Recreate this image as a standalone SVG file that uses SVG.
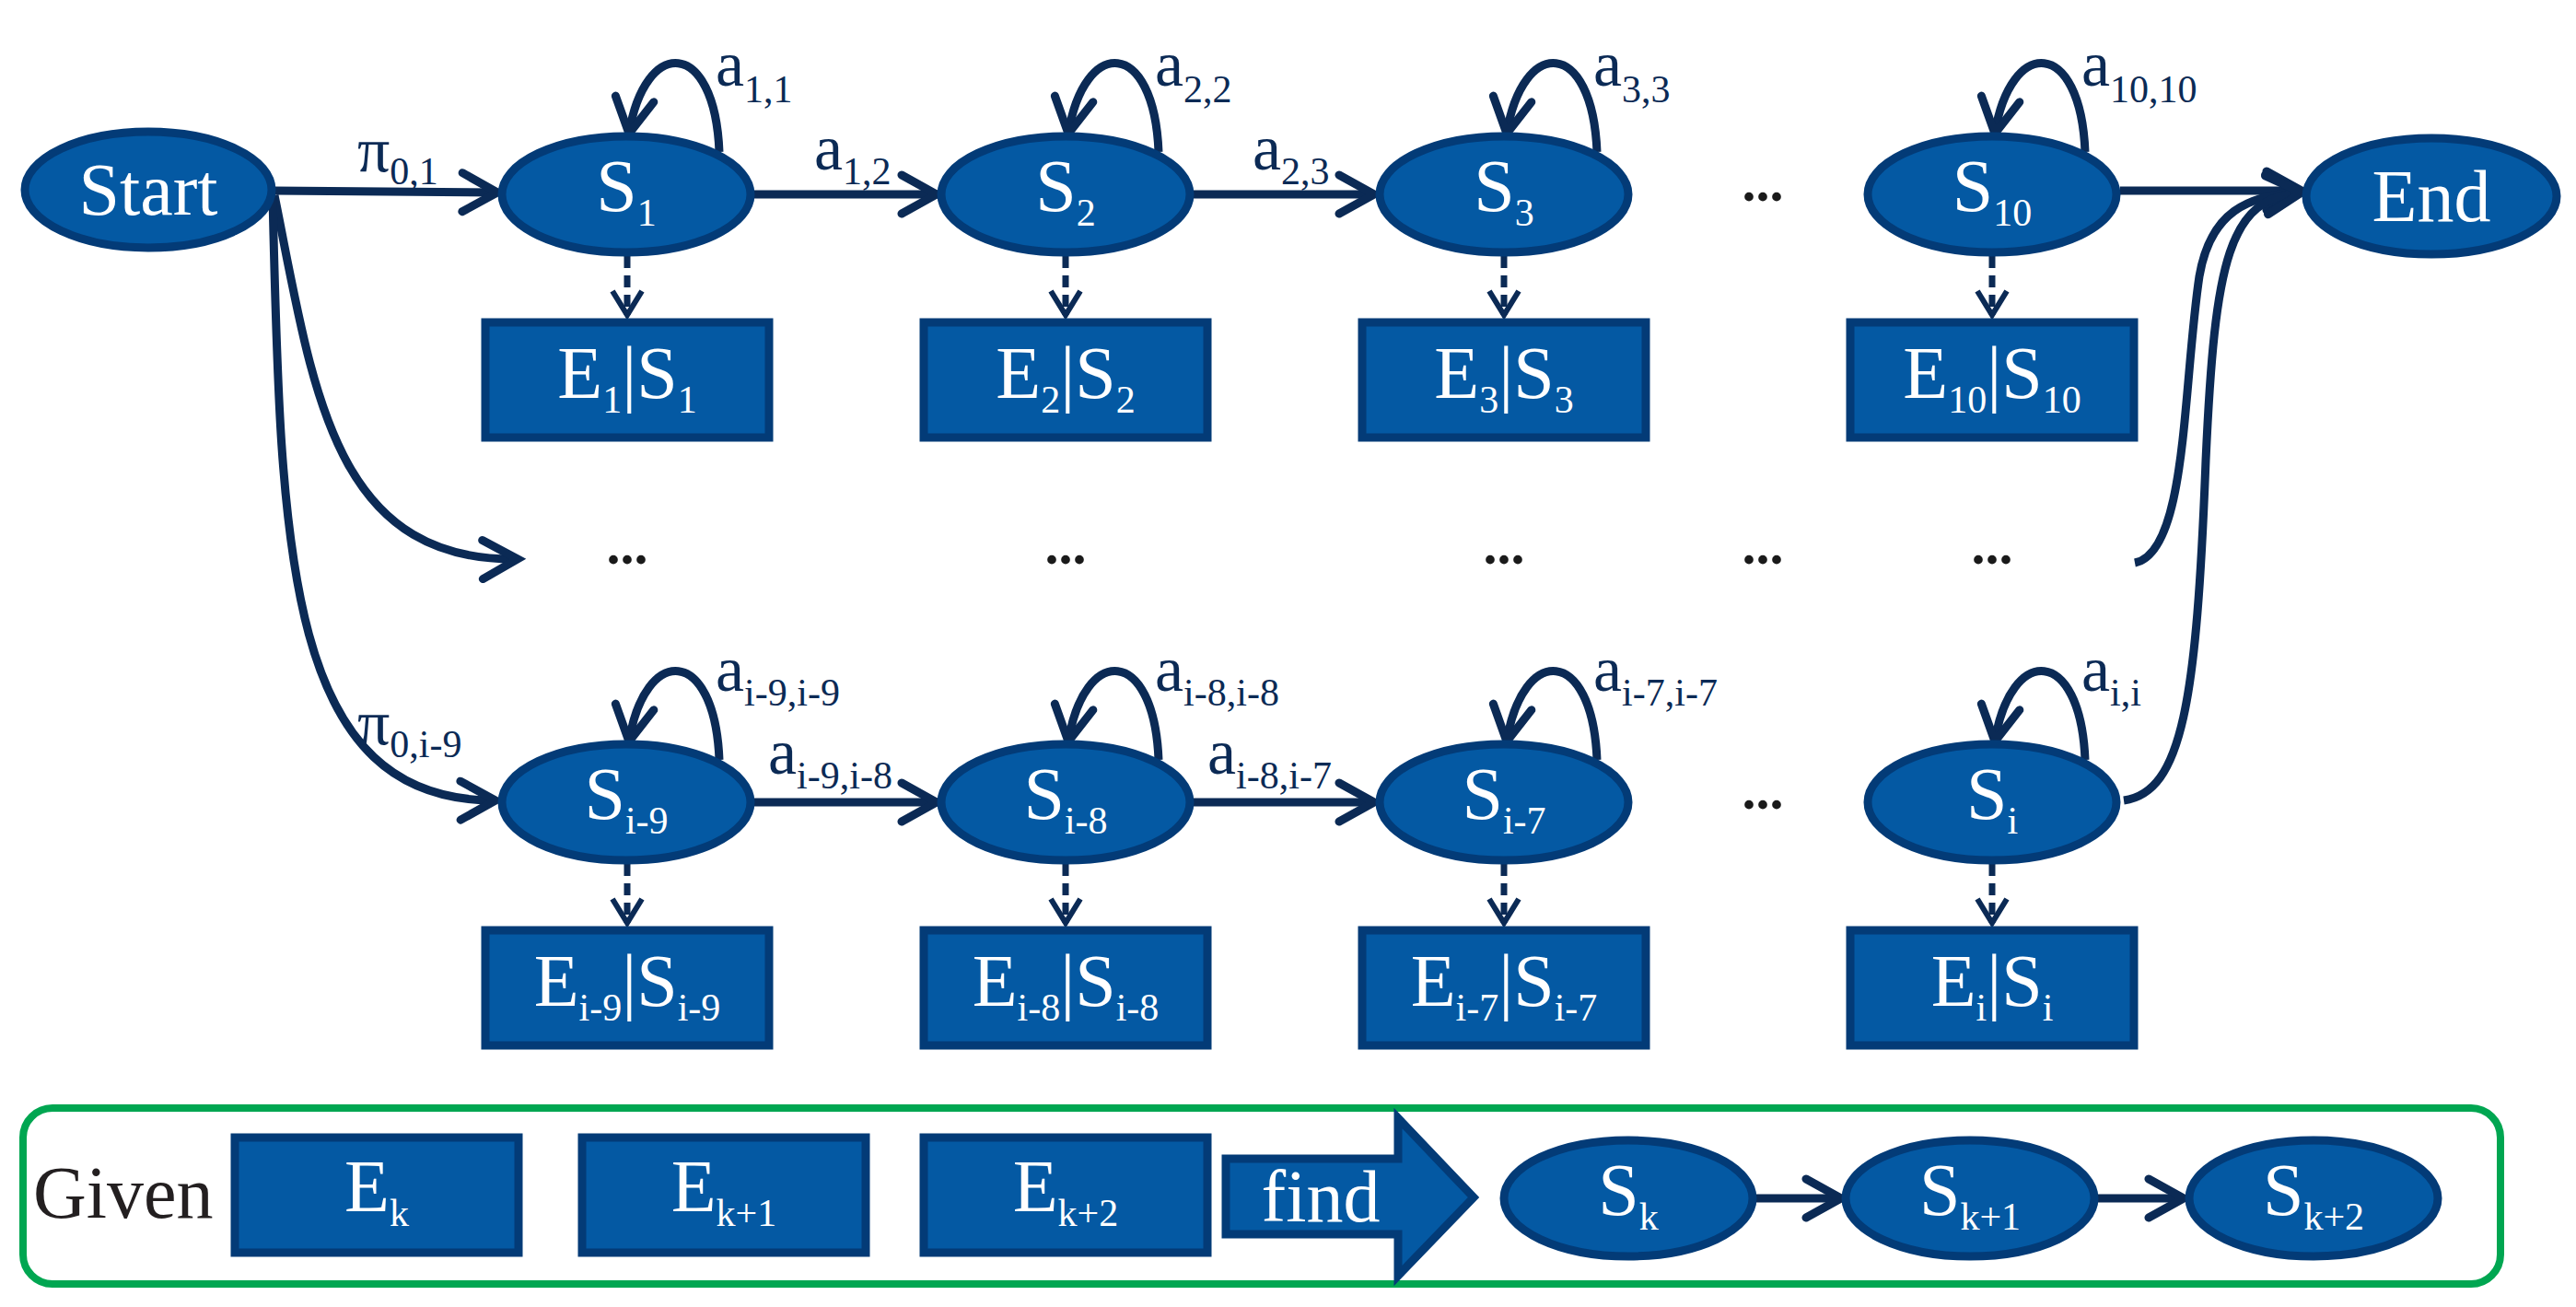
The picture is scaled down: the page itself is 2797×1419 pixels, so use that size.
<svg xmlns="http://www.w3.org/2000/svg" width="2797" height="1419" viewBox="0 0 2797 1419" font-family="'Liberation Serif', serif">
<style>
.n{fill:#0459a3;stroke:#033b77;stroke-width:9}
.t{font-family:'Liberation Serif',serif;font-size:80px;fill:#fff;text-anchor:middle}
.l{font-family:'Liberation Serif',serif;font-size:70px;fill:#0b2a55}
.d{font-family:'Liberation Serif',serif;font-size:60px;fill:#1a1a1a;text-anchor:middle;font-weight:bold}
.s{font-size:42px}
.c{fill:none;stroke:#0b2a55;stroke-width:9}
.ds{fill:none;stroke:#0b2a55;stroke-width:7;stroke-dasharray:13 8}
</style>
<defs>
<marker id="ah" markerUnits="userSpaceOnUse" markerWidth="60" markerHeight="60" refX="44" refY="25" orient="auto" viewBox="0 0 60 50">
<polyline points="6,4 44,25 6,46" fill="none" stroke="#0b2a55" stroke-width="9" stroke-linecap="round" stroke-linejoin="miter"/>
</marker>
<marker id="dh" markerUnits="userSpaceOnUse" markerWidth="40" markerHeight="40" refX="30" refY="18" orient="auto" viewBox="0 0 40 36">
<polyline points="4,2 30,18 4,34" fill="none" stroke="#0b2a55" stroke-width="6"/>
</marker>
</defs>
<g id="connectors">
<path class="c" d="M297,207 L540,209" marker-end="url(#ah)"/>
<path class="c" d="M819,211 L1017,211" marker-end="url(#ah)"/>
<path class="c" d="M1295,211 L1492,211" marker-end="url(#ah)"/>
<path class="c" d="M2302,207 L2499,207" marker-end="url(#ah)"/>
<path class="c" d="M819,871 L1017,871" marker-end="url(#ah)"/>
<path class="c" d="M1295,871 L1492,871" marker-end="url(#ah)"/>
<path class="c" d="M298,212 C340,420 360,610 562,607" marker-end="url(#ah)"/>
<path class="c" d="M296,214 C305,600 310,870 538,869" marker-end="url(#ah)"/>
<path class="c" d="M2318,611 C2375,600 2370,420 2388,300 C2400,230 2440,212 2499,208" marker-end="url(#ah)"/>
<path class="c" d="M2306,869 C2370,860 2385,760 2395,500 C2405,280 2420,215 2499,209" marker-end="url(#ah)"/>
<g id="loops">
<path class="c" d="M781,165 C776,40 700,40 683,145" marker-end="url(#ah)"/>
<path class="c" d="M1258,165 C1253,40 1177,40 1160,145" marker-end="url(#ah)"/>
<path class="c" d="M1734,165 C1729,40 1653,40 1636,145" marker-end="url(#ah)"/>
<path class="c" d="M2264,165 C2259,40 2183,40 2166,145" marker-end="url(#ah)"/>
<path class="c" d="M781,825 C776,700 700,700 683,805" marker-end="url(#ah)"/>
<path class="c" d="M1258,825 C1253,700 1177,700 1160,805" marker-end="url(#ah)"/>
<path class="c" d="M1734,825 C1729,700 1653,700 1636,805" marker-end="url(#ah)"/>
<path class="c" d="M2264,825 C2259,700 2183,700 2166,805" marker-end="url(#ah)"/>
</g>
<g id="emissions">
<path class="ds" d="M681,278 V342" marker-end="url(#dh)"/>
<path class="ds" d="M1157,278 V342" marker-end="url(#dh)"/>
<path class="ds" d="M1633,278 V342" marker-end="url(#dh)"/>
<path class="ds" d="M2163,278 V342" marker-end="url(#dh)"/>
<path class="ds" d="M681,938 V1002" marker-end="url(#dh)"/>
<path class="ds" d="M1157,938 V1002" marker-end="url(#dh)"/>
<path class="ds" d="M1633,938 V1002" marker-end="url(#dh)"/>
<path class="ds" d="M2163,938 V1002" marker-end="url(#dh)"/>
</g>
<path class="c" d="M1907,1301 L1999,1301" marker-end="url(#ah)"/>
<path class="c" d="M2277,1301 L2371,1301" marker-end="url(#ah)"/>
</g>
<g id="labels">
<text class="l" x="388" y="186">π<tspan class="s" dy="14">0,1</tspan></text>
<text class="l" x="884" y="184">a<tspan class="s" dy="16">1,2</tspan></text>
<text class="l" x="1360" y="184">a<tspan class="s" dy="16">2,3</tspan></text>
<text class="l" x="777" y="93">a<tspan class="s" dy="18">1,1</tspan></text>
<text class="l" x="1254" y="93">a<tspan class="s" dy="18">2,2</tspan></text>
<text class="l" x="1730" y="93">a<tspan class="s" dy="18">3,3</tspan></text>
<text class="l" x="2260" y="93">a<tspan class="s" dy="18">10,10</tspan></text>
<text class="l" x="388" y="808">π<tspan class="s" dy="14">0,i-9</tspan></text>
<text class="l" x="834" y="840">a<tspan class="s" dy="16">i-9,i-8</tspan></text>
<text class="l" x="1311" y="840">a<tspan class="s" dy="16">i-8,i-7</tspan></text>
<text class="l" x="777" y="750">a<tspan class="s" dy="16">i-9,i-9</tspan></text>
<text class="l" x="1254" y="750">a<tspan class="s" dy="16">i-8,i-8</tspan></text>
<text class="l" x="1730" y="750">a<tspan class="s" dy="16">i-7,i-7</tspan></text>
<text class="l" x="2260" y="750">a<tspan class="s" dy="16">i,i</tspan></text>
<text class="d" x="1914" y="218">...</text>
<text class="d" x="1914" y="878">...</text>
<text class="d" x="681" y="612">...</text>
<text class="d" x="1157" y="612">...</text>
<text class="d" x="1633" y="612">...</text>
<text class="d" x="1914" y="612">...</text>
<text class="d" x="2163" y="612">...</text>
</g>
<g id="Start"><ellipse class="n" cx="161" cy="206" rx="134" ry="63"/><text class="t" x="161" y="233">Start</text></g>
<g id="End"><ellipse class="n" cx="2640" cy="213" rx="136" ry="63"/><text class="t" x="2640" y="240">End</text></g>
<g id="S1"><ellipse class="n" cx="680" cy="211" rx="135" ry="63"/><text class="t" x="680" y="229">S<tspan class="s" dy="16">1</tspan></text></g>
<g id="S2"><ellipse class="n" cx="1157" cy="211" rx="135" ry="63"/><text class="t" x="1157" y="229">S<tspan class="s" dy="16">2</tspan></text></g>
<g id="S3"><ellipse class="n" cx="1633" cy="211" rx="135" ry="63"/><text class="t" x="1633" y="229">S<tspan class="s" dy="16">3</tspan></text></g>
<g id="S10"><ellipse class="n" cx="2163" cy="211" rx="135" ry="63"/><text class="t" x="2163" y="229">S<tspan class="s" dy="16">10</tspan></text></g>
<g id="Si-9"><ellipse class="n" cx="680" cy="871" rx="135" ry="63"/><text class="t" x="680" y="889">S<tspan class="s" dy="16">i-9</tspan></text></g>
<g id="Si-8"><ellipse class="n" cx="1157" cy="871" rx="135" ry="63"/><text class="t" x="1157" y="889">S<tspan class="s" dy="16">i-8</tspan></text></g>
<g id="Si-7"><ellipse class="n" cx="1633" cy="871" rx="135" ry="63"/><text class="t" x="1633" y="889">S<tspan class="s" dy="16">i-7</tspan></text></g>
<g id="Si"><ellipse class="n" cx="2163" cy="871" rx="135" ry="63"/><text class="t" x="2163" y="889">S<tspan class="s" dy="16">i</tspan></text></g>
<g id="E1"><rect class="n" x="527" y="350" width="308" height="125"/><text class="t" x="681" y="432">E<tspan class="s" dy="16">1</tspan><tspan dy="-16">|S</tspan><tspan class="s" dy="16">1</tspan></text></g>
<g id="E2"><rect class="n" x="1003" y="350" width="308" height="125"/><text class="t" x="1157" y="432">E<tspan class="s" dy="16">2</tspan><tspan dy="-16">|S</tspan><tspan class="s" dy="16">2</tspan></text></g>
<g id="E3"><rect class="n" x="1479" y="350" width="308" height="125"/><text class="t" x="1633" y="432">E<tspan class="s" dy="16">3</tspan><tspan dy="-16">|S</tspan><tspan class="s" dy="16">3</tspan></text></g>
<g id="E10"><rect class="n" x="2009" y="350" width="308" height="125"/><text class="t" x="2163" y="432">E<tspan class="s" dy="16">10</tspan><tspan dy="-16">|S</tspan><tspan class="s" dy="16">10</tspan></text></g>
<g id="Ei-9"><rect class="n" x="527" y="1010" width="308" height="125"/><text class="t" x="681" y="1092">E<tspan class="s" dy="16">i-9</tspan><tspan dy="-16">|S</tspan><tspan class="s" dy="16">i-9</tspan></text></g>
<g id="Ei-8"><rect class="n" x="1003" y="1010" width="308" height="125"/><text class="t" x="1157" y="1092">E<tspan class="s" dy="16">i-8</tspan><tspan dy="-16">|S</tspan><tspan class="s" dy="16">i-8</tspan></text></g>
<g id="Ei-7"><rect class="n" x="1479" y="1010" width="308" height="125"/><text class="t" x="1633" y="1092">E<tspan class="s" dy="16">i-7</tspan><tspan dy="-16">|S</tspan><tspan class="s" dy="16">i-7</tspan></text></g>
<g id="Ei"><rect class="n" x="2009" y="1010" width="308" height="125"/><text class="t" x="2163" y="1092">E<tspan class="s" dy="16">i</tspan><tspan dy="-16">|S</tspan><tspan class="s" dy="16">i</tspan></text></g>
<g id="given-panel">
<rect x="25" y="1203" width="2690" height="191" rx="32" fill="none" stroke="#00a651" stroke-width="8"/>
<text x="36" y="1322" font-family="'Liberation Serif', serif" font-size="80" fill="#231f20">Given</text>
</g>
<g id="Ek"><rect class="n" x="255" y="1235" width="308" height="125"/><text class="t" x="409" y="1315">E<tspan class="s" dy="16">k</tspan></text></g>
<g id="Ek1"><rect class="n" x="632" y="1235" width="308" height="125"/><text class="t" x="786" y="1315">E<tspan class="s" dy="16">k+1</tspan></text></g>
<g id="Ek2"><rect class="n" x="1003" y="1235" width="308" height="125"/><text class="t" x="1157" y="1315">E<tspan class="s" dy="16">k+2</tspan></text></g>
<g id="find"><polygon class="n" points="1331,1258 1518,1258 1518,1214 1600,1300 1518,1385 1518,1340 1331,1340"/><text class="t" x="1434" y="1326">find</text></g>
<g id="Sk"><ellipse class="n" cx="1768" cy="1301" rx="135" ry="63"/><text class="t" x="1768" y="1319">S<tspan class="s" dy="16">k</tspan></text></g>
<g id="Sk1"><ellipse class="n" cx="2139" cy="1301" rx="135" ry="63"/><text class="t" x="2139" y="1319">S<tspan class="s" dy="16">k+1</tspan></text></g>
<g id="Sk2"><ellipse class="n" cx="2512" cy="1301" rx="135" ry="63"/><text class="t" x="2512" y="1319">S<tspan class="s" dy="16">k+2</tspan></text></g>
</svg>
